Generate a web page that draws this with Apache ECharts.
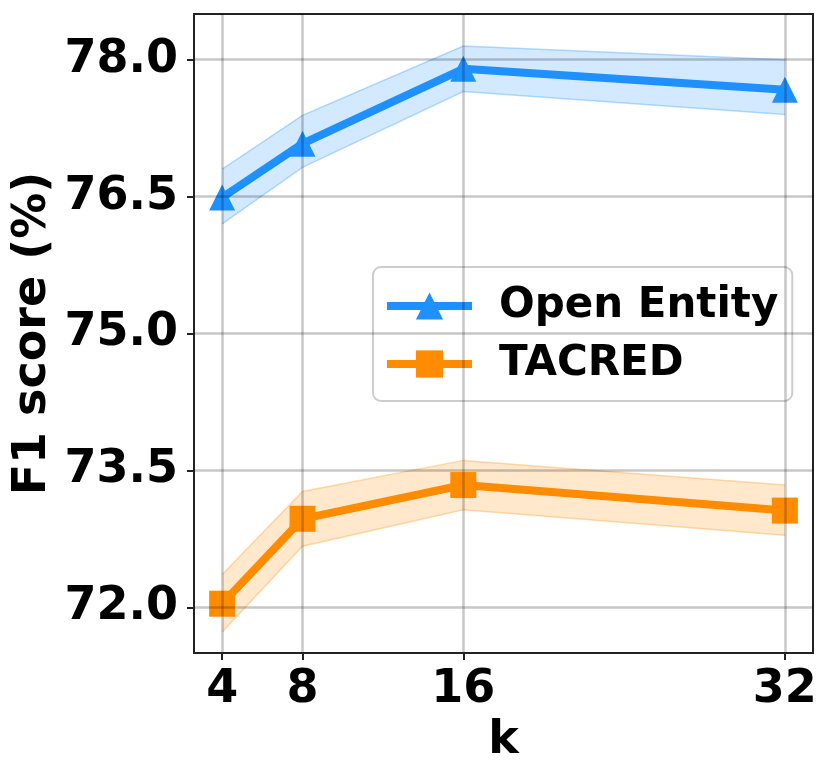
<!DOCTYPE html>
<html>
<head>
<meta charset="utf-8">
<script src="https://cdn.jsdelivr.net/npm/echarts@6/dist/echarts.min.js"></script>
<style>
  html, body { margin: 0; padding: 0; background: #fff; }
  #chart { width: 831px; height: 778px; }
</style>
</head>
<body>
<div id="chart"></div>
<script>
// values
const kValues = [4, 8, 16, 32];
const openEntity = [76.49, 77.08, 77.9, 77.67];
const openEntityLow = [76.2, 76.82, 77.65, 77.4];
const openEntityHigh = [76.8, 77.39, 78.15, 78.0];
const tacred = [72.04, 72.97, 73.34, 73.06];
const tacredLow = [71.73, 72.67, 73.07, 72.79];
const tacredHigh = [72.36, 73.27, 73.61, 73.34];
const xTicks = [4, 8, 16, 32];
const yTicks = [72.0, 73.5, 75.0, 76.5, 78.0];

const FONT = "DejaVu Sans";
const BLUE = "#1e90ff";
const ORANGE = "#ff8c00";

const pairs = (ys) => kValues.map((k, i) => [k, ys[i]]);

// shaded band between low and high, drawn once as a single polygon
const bandSeries = (name, lo, hi, rgb) => ({
  name: name,
  type: "custom",
  silent: true,
  z: 4,
  clip: true,
  data: kValues.map((k, i) => [k, lo[i], hi[i]]),
  encode: { x: 0, y: [1, 2] },
  renderItem: (params, api) => {
    if (params.dataIndex !== 0) return;
    const top = kValues.map((k, i) => api.coord([k, hi[i]]));
    const bottom = kValues.map((k, i) => api.coord([k, lo[i]]));
    const edge = { stroke: `rgba(${rgb},0.3)`, lineWidth: 1.5, fill: null };
    return {
      type: "group",
      children: [
        {
          type: "polygon",
          shape: { points: top.concat(bottom.slice().reverse()) },
          style: { fill: `rgba(${rgb},0.2)` },
        },
        { type: "polyline", shape: { points: top }, style: edge },
        { type: "polyline", shape: { points: bottom }, style: edge },
      ],
    };
  },
});

const chart = echarts.init(document.getElementById("chart"));
chart.setOption({
  animation: false,
  textStyle: { fontFamily: FONT },
  grid: {
    left: 194,
    right: 18,
    top: 14,
    bottom: 125,
    show: true,
    borderColor: "#222",
    borderWidth: 2,
  },
  legend: {
    data: ["Open Entity", "TACRED"],
    orient: "vertical",
    left: 373,
    top: 267,
    padding: [18, 14, 16, 10],
    itemWidth: 85,
    itemHeight: 34,
    itemGap: 16,
    backgroundColor: "rgba(255,255,255,0.8)",
    borderColor: "#cccccc",
    borderWidth: 2,
    borderRadius: 8,
    lineStyle: { width: 8 },
    textStyle: {
      fontFamily: FONT,
      fontWeight: "bold",
      fontSize: 42,
      color: "#000",
      padding: [0, 0, 0, 22],
    },
  },
  xAxis: {
    type: "value",
    min: 2.6,
    max: 33.4,
    z: 10,
    name: "k",
    nameLocation: "middle",
    nameGap: 65,
    nameTextStyle: { fontFamily: FONT, fontWeight: "bold", fontSize: 46, color: "#000" },
    axisLine: { show: true, lineStyle: { color: "#222", width: 2 } },
    axisTick: { show: true, length: 7, lineStyle: { color: "#222", width: 2 }, customValues: xTicks },
    axisLabel: {
      customValues: xTicks,
      margin: 14,
      fontFamily: FONT,
      fontWeight: "bold",
      fontSize: 46,
      color: "#000",
    },
    splitLine: { show: true, lineStyle: { color: "rgba(0,0,0,0.22)", width: 2.5 } },
  },
  yAxis: {
    type: "value",
    min: 71.5,
    max: 78.5,
    z: 10,
    name: "F1 score (%)",
    nameLocation: "middle",
    nameGap: 138,
    nameMoveOverlap: false,
    nameTextStyle: { fontFamily: FONT, fontWeight: "bold", fontSize: 46, color: "#000" },
    axisLine: { show: true, lineStyle: { color: "#222", width: 2 } },
    axisTick: { show: true, length: 7, lineStyle: { color: "#222", width: 2 }, customValues: yTicks },
    axisLabel: {
      customValues: yTicks,
      margin: 16,
      fontFamily: FONT,
      fontWeight: "bold",
      fontSize: 46,
      color: "#000",
      formatter: (v) => v.toFixed(1),
    },
    splitLine: { show: true, lineStyle: { color: "rgba(0,0,0,0.22)", width: 2.5 } },
  },
  series: [
    {
      name: "Open Entity",
      type: "line",
      data: pairs(openEntity),
      symbol: "triangle",
      symbolSize: 26,
      z: 3,
      color: BLUE,
      lineStyle: { width: 8, color: BLUE },
      itemStyle: { color: BLUE },
    },
    {
      name: "TACRED",
      type: "line",
      data: pairs(tacred),
      symbol: "rect",
      symbolSize: 26,
      z: 3,
      color: ORANGE,
      lineStyle: { width: 8, color: ORANGE },
      itemStyle: { color: ORANGE },
    },
    bandSeries("oeBand", openEntityLow, openEntityHigh, "30,144,255"),
    bandSeries("tacBand", tacredLow, tacredHigh, "255,140,0"),
  ],
});
</script>
</body>
</html>
